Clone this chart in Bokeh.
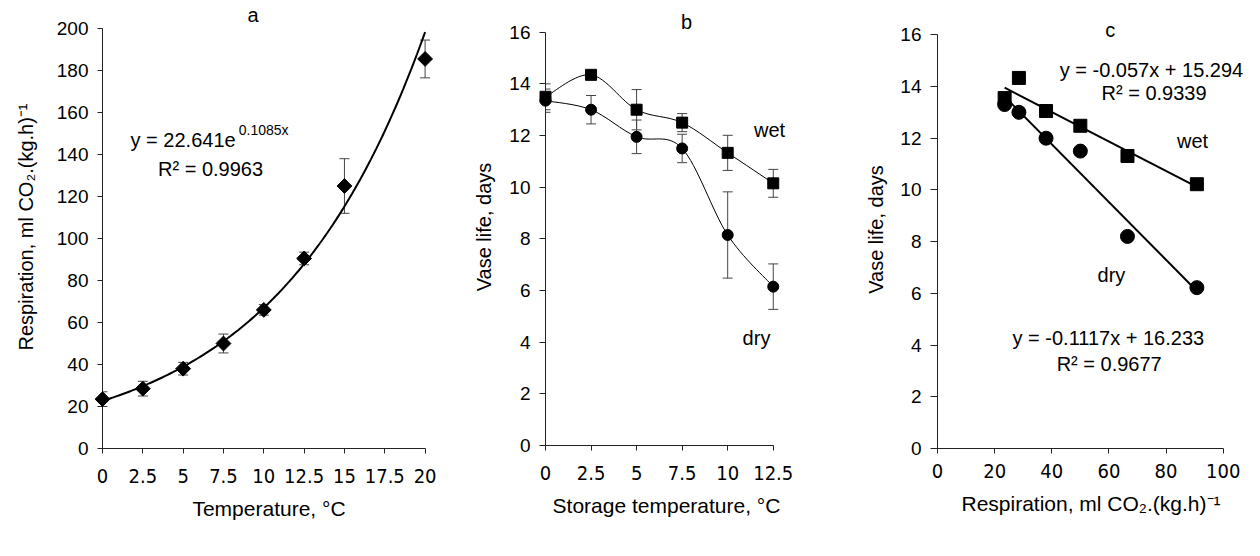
import numpy as np
from bokeh.plotting import figure
from bokeh.layouts import row
from bokeh.models import ColumnDataSource, Whisker, TeeHead, FixedTicker, Label
from bokeh.embed import file_html
from bokeh.resources import INLINE

# ---------------- data ----------------
# panel a: respiration vs temperature
temp_a = [0, 2.5, 5, 7.5, 10, 12.5, 15, 20]
resp_a = [23.5, 28.5, 38, 50, 66, 90.5, 125, 185.5]
resp_err = [3.5, 3.5, 3, 4.5, 2.5, 3, 13, 9]
fit_a_coef = 22.641
fit_a_rate = 0.1085
ticks_a_x = [0, 2.5, 5, 7.5, 10, 12.5, 15, 17.5, 20]
labels_a_x = ["0", "2.5", "5", "7.5", "10", "12.5", "15", "17.5", "20"]
ticks_a_y = [0, 20, 40, 60, 80, 100, 120, 140, 160, 180, 200]

# panel b: vase life vs storage temperature
temp_b = [0, 2.5, 5, 7.5, 10, 12.5]
wet_b = [13.5, 14.35, 13.0, 12.5, 11.33, 10.15]
wet_err = [0.5, 0.15, 0.78, 0.35, 0.68, 0.54]
dry_b = [13.35, 13.0, 11.95, 11.5, 8.15, 6.15]
dry_err = [0.45, 0.55, 0.65, 0.55, 1.67, 0.88]
ticks_b_x = [0, 2.5, 5, 7.5, 10, 12.5]
labels_b_x = ["0", "2.5", "5", "7.5", "10", "12.5"]
ticks_vase_y = [0, 2, 4, 6, 8, 10, 12, 14, 16]

# panel c: vase life vs respiration
resp_c = [23.5, 28.5, 38, 50, 66.5, 90.8]
wet_c = [13.55, 14.33, 13.05, 12.48, 11.31, 10.22]
dry_c = [13.3, 13.0, 12.0, 11.5, 8.2, 6.22]
fit_wet_slope, fit_wet_icpt = -0.057, 15.294
fit_dry_slope, fit_dry_icpt = -0.1117, 16.233
ticks_c_x = [0, 20, 40, 60, 80, 100]

FONT = "Liberation Sans"
COND = "'DejaVu Sans Condensed', 'Liberation Sans'"
TXT = "20px"


def style(p, xticks, xlabels, yticks, xbounds, ybounds, xstand, ylabel_stand, ytick_out=5):
    p.grid.visible = False
    p.outline_line_color = None
    for ax in (p.xaxis[0], p.yaxis[0]):
        ax.axis_line_color = "#222222"
        ax.axis_line_width = 1
        ax.major_tick_line_color = "#222222"
        ax.major_tick_in = 0
        ax.minor_tick_line_color = None
        ax.axis_label_text_font = FONT
        ax.axis_label_text_font_style = "normal"
        ax.axis_label_text_color = "black"
        ax.major_label_text_color = "black"
    p.xaxis.axis_label_text_font_size = "21px"
    p.yaxis.axis_label_text_font_size = "20px"
    p.xaxis.major_tick_out = 5
    p.yaxis.major_tick_out = ytick_out
    p.xaxis.bounds = xbounds
    p.yaxis.bounds = ybounds
    p.xaxis.ticker = FixedTicker(ticks=xticks)
    if xlabels is not None:
        p.xaxis.major_label_overrides = {t: l for t, l in zip(xticks, xlabels)}
    p.xaxis.major_label_text_font = COND
    p.xaxis.major_label_text_font_size = "20px"
    p.xaxis.major_label_standoff = xstand
    p.xaxis.axis_label_standoff = 11
    p.yaxis.ticker = FixedTicker(ticks=yticks)
    p.yaxis.major_label_text_font = FONT
    p.yaxis.major_label_text_font_size = "19px"
    p.yaxis.major_label_standoff = 9
    p.yaxis.axis_label_standoff = ylabel_stand


def add_label(p, x, y, text, size=TXT, align="center"):
    p.add_layout(Label(x=x, y=y, text=text, text_font=FONT, text_font_size=size,
                       text_align=align, text_baseline="middle", text_color="black"))


def smooth(p, xs, ys, **kw):
    n = len(xs)
    x0, y0, x1, y1, cx0, cy0, cx1, cy1 = [], [], [], [], [], [], [], []
    for i in range(n - 1):
        a = max(i - 1, 0)
        d = min(i + 2, n - 1)
        x0.append(xs[i]); y0.append(ys[i])
        x1.append(xs[i + 1]); y1.append(ys[i + 1])
        cx0.append(xs[i] + (xs[i + 1] - xs[a]) / 6)
        cy0.append(ys[i] + (ys[i + 1] - ys[a]) / 6)
        cx1.append(xs[i + 1] - (xs[d] - xs[i]) / 6)
        cy1.append(ys[i + 1] - (ys[d] - ys[i]) / 6)
    p.bezier(x0=x0, y0=y0, x1=x1, y1=y1, cx0=cx0, cy0=cy0, cx1=cx1, cy1=cy1, **kw)


def whiskers(p, xs, ys, errs):
    src = ColumnDataSource(dict(x=xs, lo=[y - e for y, e in zip(ys, errs)],
                                hi=[y + e for y, e in zip(ys, errs)]))
    w = Whisker(source=src, base="x", lower="lo", upper="hi", line_color="#444444", line_width=1,
                upper_head=TeeHead(size=10, line_color="#444444", line_width=1),
                lower_head=TeeHead(size=10, line_color="#444444", line_width=1))
    p.add_layout(w)


# ---------------- panel a ----------------
pa = figure(width=470, height=540, x_range=(0, 333 / 16.13), y_range=(0, 443 / 2.1),
            min_border_left=102, min_border_right=35, min_border_top=5, min_border_bottom=92,
            toolbar_location=None, output_backend="svg", frame_align=False,
            x_axis_label="Temperature, °C", y_axis_label="Respiration, ml CO₂.(kg.h)⁻¹")
style(pa, ticks_a_x, labels_a_x, ticks_a_y, (0, 20), (0, 200), 15, 17)
fx = np.linspace(min(temp_a), max(temp_a), 120)
pa.line(fx, fit_a_coef * np.exp(fit_a_rate * fx), line_color="black", line_width=2)
whiskers(pa, temp_a, resp_a, resp_err)
ra = pa.scatter(temp_a, resp_a, marker="square", angle=np.pi / 4, size=10.5,
                fill_color="black", line_color="black")
ra.level = "overlay"
add_label(pa, 9.33, 206.3, "a")
add_label(pa, 1.74, 147, "y = 22.641e", align="left")
add_label(pa, 8.45, 151.5, "0.1085x", size="14px", align="left")
add_label(pa, 6.7, 133, "R² = 0.9963")

# ---------------- panel b ----------------
pb = figure(width=392, height=540, x_range=(0, 242 / 18.22), y_range=(0, 437 / 25.83),
            min_border_left=75, min_border_right=75, min_border_top=8, min_border_bottom=95,
            toolbar_location=None, output_backend="svg", frame_align=False,
            x_axis_label="Storage temperature, °C", y_axis_label="Vase life, days")
style(pb, ticks_b_x, labels_b_x, ticks_vase_y, (0, 12.5), (0, 16), 15, 11, 6)
smooth(pb, temp_b, wet_b, line_color="black", line_width=1)
smooth(pb, temp_b, dry_b, line_color="black", line_width=1)
whiskers(pb, temp_b, wet_b, wet_err)
whiskers(pb, temp_b, dry_b, dry_err)
r1 = pb.scatter(temp_b, wet_b, marker="square", size=11, fill_color="black", line_color="black")
r2 = pb.scatter(temp_b, dry_b, marker="circle", size=11, fill_color="black", line_color="black")
r1.level = "overlay"
r2.level = "overlay"
add_label(pb, 7.74, 16.38, "b")
add_label(pb, 12.3, 12.23, "wet")
add_label(pb, 11.58, 4.18, "dry")

# ---------------- panel c ----------------
pc = figure(width=383, height=540, x_range=(0, 308 / 2.866), y_range=(0, 438 / 25.86),
            min_border_left=74, min_border_right=1, min_border_top=10, min_border_bottom=92,
            toolbar_location=None, output_backend="svg", frame_align=False,
            x_axis_label="Respiration, ml CO₂.(kg.h)⁻¹", y_axis_label="Vase life, days")
style(pc, ticks_c_x, None, ticks_vase_y, (0, 100), (0, 16), 10, 10, 7)
lx = np.array([min(resp_c), max(resp_c)])
pc.line(lx, fit_wet_slope * lx + fit_wet_icpt, line_color="black", line_width=2)
pc.line(lx, fit_dry_slope * lx + fit_dry_icpt, line_color="black", line_width=2)
pc.scatter(resp_c, wet_c, marker="square", size=13, fill_color="black", line_color="black")
pc.scatter(resp_c, dry_c, marker="circle", size=14, fill_color="black", line_color="black")
add_label(pc, 60.5, 16.2, "c")
add_label(pc, 74.9, 14.64, "y = -0.057x + 15.294")
add_label(pc, 75.8, 13.75, "R² = 0.9339")
add_label(pc, 89.3, 11.9, "wet")
add_label(pc, 60.9, 6.72, "dry")
add_label(pc, 59.8, 4.28, "y = -0.1117x + 16.233")
add_label(pc, 60.1, 3.28, "R² = 0.9677")

layout = row(pa, pb, pc)
open("out.html", "w").write(file_html(layout, INLINE))
